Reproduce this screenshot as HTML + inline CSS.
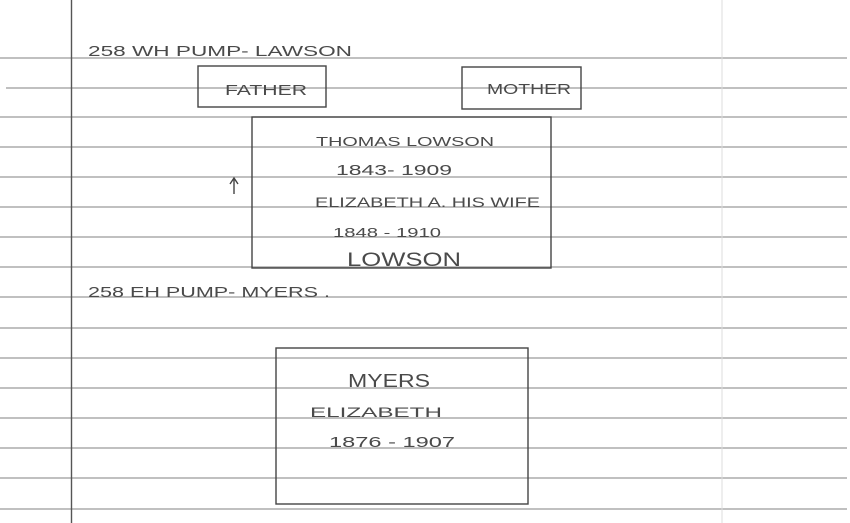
<!DOCTYPE html>
<html><head><meta charset="utf-8"><style>
html,body{margin:0;padding:0;background:#fff;}
svg{display:block;}
text{font-family:"Liberation Sans",sans-serif;fill:#4a4a4a;}
</style></head><body>
<svg width="850" height="523" viewBox="0 0 850 523" xmlns="http://www.w3.org/2000/svg" xml:space="preserve">
<rect width="850" height="523" fill="#fff"/>
<g stroke="#9a9a9a" stroke-width="1.2">
<line x1="0" y1="58" x2="847" y2="58"/>
<line x1="6" y1="88" x2="847" y2="88"/>
<line x1="0" y1="117" x2="847" y2="117"/>
<line x1="0" y1="147" x2="847" y2="147"/>
<line x1="0" y1="177" x2="847" y2="177"/>
<line x1="0" y1="207" x2="847" y2="207"/>
<line x1="0" y1="237" x2="847" y2="237"/>
<line x1="0" y1="267" x2="847" y2="267"/>
<line x1="0" y1="297" x2="847" y2="297"/>
<line x1="0" y1="328" x2="847" y2="328"/>
<line x1="0" y1="358" x2="847" y2="358"/>
<line x1="0" y1="388" x2="847" y2="388"/>
<line x1="0" y1="418" x2="847" y2="418"/>
<line x1="0" y1="448" x2="847" y2="448"/>
<line x1="0" y1="478" x2="847" y2="478"/>
<line x1="0" y1="509" x2="847" y2="509"/>
</g>
<line x1="71.5" y1="0" x2="71.5" y2="523" stroke="#555" stroke-width="1.4"/>
<line x1="722" y1="0" x2="722" y2="523" stroke="#ddd" stroke-width="1"/>
<g fill="none" stroke="#444" stroke-width="1.4">
<rect x="198" y="66" width="128" height="41"/>
<rect x="462" y="67" width="119" height="42"/>
<rect x="252" y="117" width="299" height="151"/>
<rect x="276" y="348" width="252" height="156"/>
<path d="M234 194 V179 M230 184 L234 178 L238 184"/>
</g>
<text x="88" y="56" font-size="15" textLength="264" lengthAdjust="spacingAndGlyphs">258 WH PUMP- LAWSON</text>
<text x="225" y="95" font-size="15" textLength="82" lengthAdjust="spacingAndGlyphs">FATHER</text>
<text x="487" y="94" font-size="15" textLength="84" lengthAdjust="spacingAndGlyphs">MOTHER</text>
<text x="316" y="146" font-size="13" textLength="178" lengthAdjust="spacingAndGlyphs">THOMAS   LOWSON</text>
<text x="336" y="175" font-size="15" textLength="116" lengthAdjust="spacingAndGlyphs">1843-  1909</text>
<text x="315" y="207" font-size="14" textLength="225" lengthAdjust="spacingAndGlyphs">ELIZABETH A. HIS WIFE</text>
<text x="333" y="237" font-size="13" textLength="108" lengthAdjust="spacingAndGlyphs">1848 - 1910</text>
<text x="347" y="266" font-size="19" textLength="114" lengthAdjust="spacingAndGlyphs">LOWSON</text>
<text x="88" y="297" font-size="15" textLength="242" lengthAdjust="spacingAndGlyphs">258 EH PUMP-  MYERS .</text>
<text x="348" y="387" font-size="18" textLength="82" lengthAdjust="spacingAndGlyphs">MYERS</text>
<text x="310" y="417" font-size="14" textLength="132" lengthAdjust="spacingAndGlyphs">ELIZABETH</text>
<text x="329" y="447" font-size="15" textLength="126" lengthAdjust="spacingAndGlyphs">1876 - 1907</text>
</svg>
</body></html>
